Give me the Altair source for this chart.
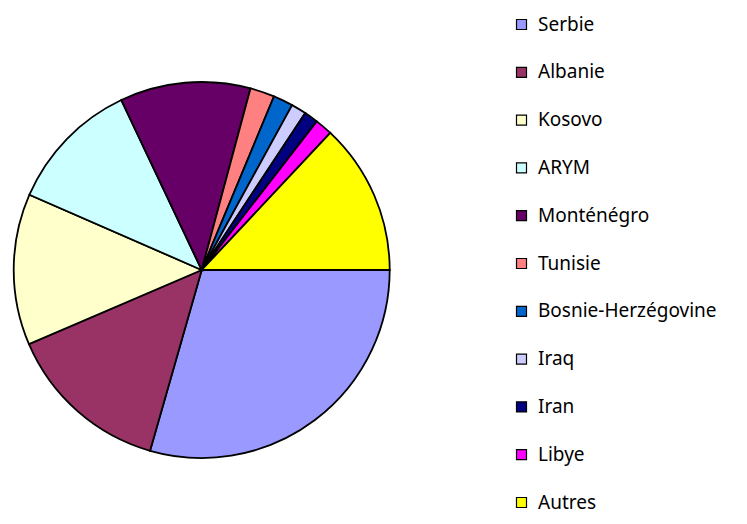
import math
import altair as alt
import pandas as pd

pays = ["Serbie", "Albanie", "Kosovo", "ARYM", "Monténégro", "Tunisie",
        "Bosnie-Herzégovine", "Iraq", "Iran", "Libye", "Autres"]
parts = [29.4, 14.1, 13.0, 11.4, 11.2, 2.1, 1.7, 1.3, 1.2, 1.5, 13.0]
couleurs = ["#9999FF", "#993366", "#FFFFCC", "#CCFFFF", "#660066", "#FF8080",
            "#0066CC", "#CCCCFF", "#000080", "#FF00FF", "#FFFF00"]

df = pd.DataFrame({"pays": pays, "part": parts, "ordre": list(range(len(pays)))})

chart = alt.Chart(df).mark_arc(
    radius=188, stroke="black", strokeWidth=1.8
).encode(
    theta=alt.Theta("part:Q", stack=True,
                    scale=alt.Scale(range=[math.pi / 2, math.pi / 2 + 2 * math.pi])),
    color=alt.Color("pays:N",
                    scale=alt.Scale(domain=pays, range=couleurs),
                    sort=pays,
                    legend=alt.Legend(
                        title=None, orient="none", legendX=504, legendY=7,
                        symbolType="square", symbolSize=100,
                        symbolStrokeColor="black", symbolStrokeWidth=1.2,
                        symbolOpacity=1,
                        labelFont="Noto Sans", labelFontSize=19, labelColor="black",
                        labelOffset=7, rowPadding=27.8, labelLimit=300)),
    order=alt.Order("ordre:Q"),
    x=alt.value(193.7),
    y=alt.value(262),
).properties(
    width=731, height=508, padding=0, autosize=alt.AutoSizeParams(type="none")
).configure_view(stroke=None)

chart.save("out.html", embed_options={"renderer": "svg", "actions": False})
